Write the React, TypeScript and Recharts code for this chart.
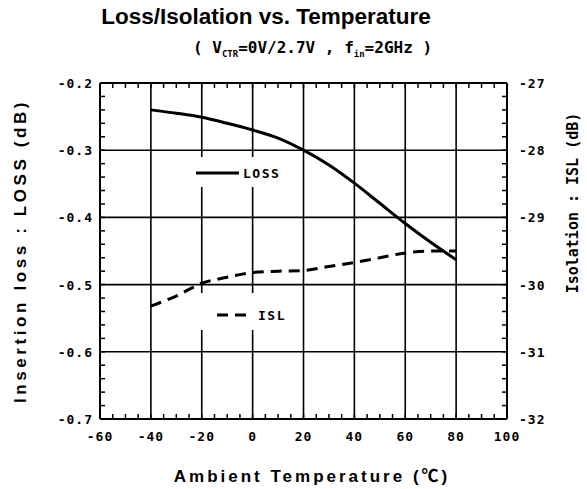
import React from 'react';
import { LineChart, Line, XAxis, YAxis, ReferenceLine, Legend } from 'recharts';

// ---- data ----
const temps = [-40, -30, -20, -10, 0, 10, 20, 30, 40, 50, 60, 70, 80];
const lossValues = [-0.24, -0.245, -0.251, -0.26, -0.27, -0.282, -0.3, -0.322, -0.349, -0.379, -0.409, -0.437, -0.463];
const islValues = [-30.32, -30.17, -29.98, -29.89, -29.82, -29.8, -29.79, -29.73, -29.67, -29.6, -29.53, -29.5, -29.5];

const xMajorTicks = [-60, -40, -20, 0, 20, 40, 60, 80, 100];
const xTickLabels = ['-60', '-40', '-20', '0', '20', '40', '60', '80', '100'];
const lossMajorTicks = [-0.7, -0.6, -0.5, -0.4, -0.3, -0.2];
const lossTickLabels = ['-0.7', '-0.6', '-0.5', '-0.4', '-0.3', '-0.2'];
const islMajorTicks = [-32, -31, -30, -29, -28, -27];
const islTickLabels = ['-32', '-31', '-30', '-29', '-28', '-27'];

const legendItems = [
  { name: 'LOSS', dash: '' },
  { name: 'ISL', dash: '11 7' },
];

const range = (start: number, stop: number, step: number) => {
  const n = Math.round((stop - start) / step);
  return Array.from({ length: n + 1 }, (_, i) => +(start + i * step).toFixed(4));
};
const xMinorTicks = range(-60, 100, 5);
const lossMinorTicks = range(-0.7, -0.2, 0.02);
const islMinorTicks = range(-32, -27, 0.2);

const data = temps.map((t, i) => ({ t, loss: lossValues[i], isl: islValues[i] }));

const findMajor = (v: number, majors: number[]) => majors.findIndex((m) => Math.abs(m - v) < 1e-6);

const tickFont: React.CSSProperties = {
  fontFamily: '"DejaVu Sans Mono", monospace',
  fontWeight: 'bold',
  fontSize: 13,
  letterSpacing: 1,
};

const TL = 5;

function BottomTick(props: any) {
  const { x, y, payload } = props;
  const idx = findMajor(payload.value, xMajorTicks);
  return (
    <g>
      <line x1={x} x2={x} y1={y} y2={y - TL} stroke="#000" strokeWidth={1.5} />
      {idx >= 0 && (
        <text x={x} y={y + 22} textAnchor="middle" style={tickFont} fill="#000">
          {xTickLabels[idx]}
        </text>
      )}
    </g>
  );
}

function TopTick(props: any) {
  const { x, y } = props;
  return <line x1={x} x2={x} y1={y} y2={y + TL} stroke="#000" strokeWidth={1.5} />;
}

function LeftTick(props: any) {
  const { x, y, payload } = props;
  const idx = findMajor(payload.value, lossMajorTicks);
  return (
    <g>
      <line x1={x} x2={x + TL} y1={y} y2={y} stroke="#000" strokeWidth={1.5} />
      {idx >= 0 && (
        <text x={x - 7} y={y + 5} textAnchor="end" style={tickFont} fill="#000">
          {lossTickLabels[idx]}
        </text>
      )}
    </g>
  );
}

function RightTick(props: any) {
  const { x, y, payload } = props;
  const idx = findMajor(payload.value, islMajorTicks);
  return (
    <g>
      <line x1={x} x2={x - TL} y1={y} y2={y} stroke="#000" strokeWidth={1.5} />
      {idx >= 0 && (
        <text x={x + 12} y={y + 5} textAnchor="start" style={tickFont} fill="#000">
          {islTickLabels[idx]}
        </text>
      )}
    </g>
  );
}

function LegendContent() {
  const tops = [0, 136];
  return (
    <div style={{ position: 'relative', width: 100, height: 175 }}>
      {legendItems.map((it, i) => (
        <div
          key={it.name}
          style={{
            position: 'absolute',
            left: 0,
            top: tops[i],
            width: 95,
            height: i === 0 ? 30 : 37,
            background: '#fff',
          }}
        >
          <svg width={95} height={i === 0 ? 30 : 37} style={{ position: 'absolute', left: 0, top: 0 }}>
            <line
              x1={i === 0 ? 3 : 24}
              x2={i === 0 ? 46 : 60}
              y1={i === 0 ? 16 : 22}
              y2={i === 0 ? 16 : 22}
              stroke="#000"
              strokeWidth={3}
              strokeDasharray={it.dash || undefined}
            />
            <text
              x={i === 0 ? 50 : 65}
              y={i === 0 ? 21 : 27}
              style={{ ...tickFont, fontSize: 13, letterSpacing: 1.5 }}
              fill="#000"
            >
              {it.name}
            </text>
          </svg>
        </div>
      ))}
    </div>
  );
}

export default function App() {
  const grid = { stroke: '#000', strokeWidth: 1.6 };
  return (
    <div
      style={{
        position: 'absolute',
        left: 0,
        top: 0,
        width: 587,
        height: 489,
        background: '#fff',
        overflow: 'hidden',
      }}
    >
      <div
        style={{
          position: 'absolute',
          left: 40,
          width: 452,
          top: 4,
          textAlign: 'center',
          fontFamily: '"Liberation Sans", Arial, sans-serif',
          fontWeight: 'bold',
          fontSize: 22.5,
          color: '#000',
        }}
      >
        Loss/Isolation vs. Temperature
      </div>
      <div
        style={{
          position: 'absolute',
          left: 193,
          top: 38,
          whiteSpace: 'pre',
          fontFamily: '"DejaVu Sans Mono", monospace',
          fontWeight: 'bold',
          fontSize: 16,
          color: '#000',
        }}
      >
        {'( V'}
        <sub style={{ fontSize: 9 }}>CTR</sub>
        {'=0V/2.7V , f'}
        <sub style={{ fontSize: 9 }}>in</sub>
        {'=2GHz )'}
      </div>
      <div
        style={{
          position: 'absolute',
          left: 21,
          top: 251,
          transform: 'translate(-50%, -50%) rotate(-90deg)',
          whiteSpace: 'pre',
          fontFamily: '"Liberation Sans", Arial, sans-serif',
          fontWeight: 'bold',
          fontSize: 17,
          letterSpacing: 3.6,
          color: '#000',
        }}
      >
        Insertion loss : LOSS (dB)
      </div>
      <div
        style={{
          position: 'absolute',
          left: 573,
          top: 203,
          transform: 'translate(-50%, -50%) rotate(-90deg)',
          whiteSpace: 'pre',
          fontFamily: '"DejaVu Sans Mono", monospace',
          fontWeight: 'bold',
          fontSize: 15,
          color: '#000',
        }}
      >
        Isolation : ISL (dB)
      </div>
      <div
        style={{
          position: 'absolute',
          left: 312,
          top: 474,
          transform: 'translate(-50%, -50%)',
          whiteSpace: 'pre',
          fontFamily: '"Liberation Sans", "Noto Sans CJK JP", sans-serif',
          fontWeight: 'bold',
          fontSize: 17,
          letterSpacing: 3,
          color: '#000',
        }}
      >
        Ambient Temperature (℃)
      </div>
      <div style={{ position: 'absolute', left: 0, top: 0 }}>
        <LineChart
          width={587}
          height={489}
          data={data}
          margin={{ top: 73, left: 60, right: 40, bottom: 40 }}
        >
          <XAxis
            xAxisId="b"
            dataKey="t"
            type="number"
            domain={[-60, 100]}
            ticks={xMinorTicks}
            interval={0}
            height={30}
            tickSize={0}
            tickMargin={0}
            tickLine={false}
            axisLine={{ stroke: '#000', strokeWidth: 2 }}
            tick={<BottomTick />}
          />
          <XAxis
            xAxisId="top"
            orientation="top"
            dataKey="t"
            type="number"
            domain={[-60, 100]}
            ticks={xMinorTicks}
            interval={0}
            height={10}
            tickSize={0}
            tickMargin={0}
            tickLine={false}
            axisLine={{ stroke: '#000', strokeWidth: 2 }}
            tick={<TopTick />}
          />
          <YAxis
            yAxisId="loss"
            type="number"
            domain={[-0.7, -0.2]}
            ticks={lossMinorTicks}
            interval={0}
            width={40}
            tickSize={0}
            tickMargin={0}
            tickLine={false}
            axisLine={{ stroke: '#000', strokeWidth: 2 }}
            tick={<LeftTick />}
          />
          <YAxis
            yAxisId="isl"
            orientation="right"
            type="number"
            domain={[-32, -27]}
            ticks={islMinorTicks}
            interval={0}
            width={40}
            tickSize={0}
            tickMargin={0}
            tickLine={false}
            axisLine={{ stroke: '#000', strokeWidth: 2 }}
            tick={<RightTick />}
          />
          {xMajorTicks.slice(1, -1).map((v) => (
            <ReferenceLine key={'x' + v} xAxisId="b" yAxisId="loss" x={v} {...grid} />
          ))}
          {lossMajorTicks.slice(1, -1).map((v) => (
            <ReferenceLine key={'y' + v} xAxisId="b" yAxisId="loss" y={v} {...grid} />
          ))}
          <Line
            xAxisId="b"
            yAxisId="loss"
            type="monotone"
            dataKey="loss"
            name="LOSS"
            stroke="#000"
            strokeWidth={3}
            dot={false}
            isAnimationActive={false}
          />
          <Line
            xAxisId="b"
            yAxisId="isl"
            type="monotone"
            dataKey="isl"
            name="ISL"
            stroke="#000"
            strokeWidth={3}
            strokeDasharray="11 7"
            dot={false}
            isAnimationActive={false}
          />
          <Legend
            layout="horizontal"
            verticalAlign="middle"
            align="center"
            content={<LegendContent />}
            wrapperStyle={{ left: 193, top: 157, width: 100, height: 175 }}
          />
        </LineChart>
      </div>
    </div>
  );
}
